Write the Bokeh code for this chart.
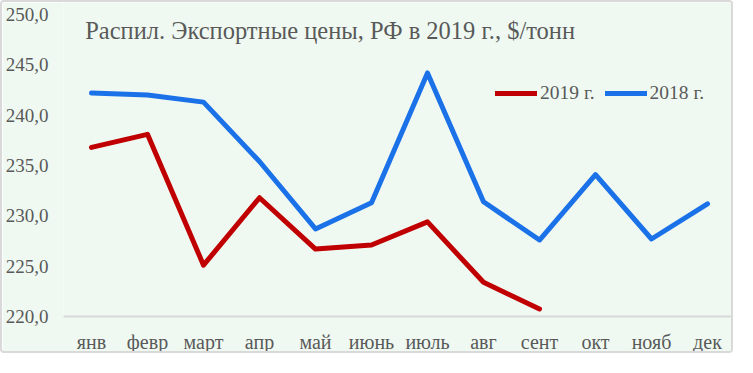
from bokeh.plotting import figure
from bokeh.models import FactorRange, Range1d, Legend, LegendItem, Label, CustomJSTickFormatter, FixedTicker
from bokeh.embed import file_html
from bokeh.resources import INLINE

months = ["янв", "февр", "март", "апр", "май", "июнь", "июль", "авг", "сент", "окт", "нояб", "дек"]
y2018 = [242.2, 242.0, 241.3, 235.4, 228.7, 231.3, 244.2, 231.4, 227.6, 234.1, 227.7, 231.2]
y2019 = [236.8, 238.1, 225.1, 231.8, 226.7, 227.1, 229.4, 223.4, 220.75]
yticks = [220, 225, 230, 235, 240, 245, 250]
title_text = "Распил. Экспортные цены, РФ в 2019 г., $/тонн"

BG = "#eff9f2"
TXT = "#595959"
FONT = "Liberation Serif"

p = figure(width=733, height=353, x_range=FactorRange(*months, range_padding=0),
           y_range=Range1d(220, 251.2), output_backend="svg", toolbar_location=None,
           min_border_left=60, min_border_right=0, min_border_top=0, min_border_bottom=35)
p.background_fill_color = BG
p.border_fill_color = BG
p.outline_line_color = None
p.xgrid.grid_line_color = None
p.ygrid.grid_line_color = None
p.styles = {"border": "2px solid #d9d9d9", "border-radius": "4px", "overflow": "hidden"}

r18 = p.line(months, y2018, line_color="#1b72e8", line_width=5, line_join="round", line_cap="round")
r19 = p.line(months[:len(y2019)], y2019, line_color="#c00000", line_width=5, line_join="round", line_cap="round")

p.yaxis.ticker = FixedTicker(ticks=yticks)
p.yaxis.formatter = CustomJSTickFormatter(code="return tick.toFixed(1).replace('.', ',');")
p.yaxis.axis_line_color = None
p.yaxis.major_tick_line_color = None
p.yaxis.minor_tick_line_color = None
p.yaxis.major_tick_out = 0
p.yaxis.major_label_standoff = 15
p.yaxis.major_label_text_font = FONT
p.yaxis.major_label_text_font_size = "19px"
p.yaxis.major_label_text_color = TXT

p.xaxis.axis_line_color = "#d9d9d9"
p.xaxis.axis_line_width = 2
p.xaxis.major_tick_line_color = None
p.xaxis.major_tick_out = 0
p.xaxis.major_label_standoff = 14
p.xaxis.major_label_text_font = FONT
p.xaxis.major_label_text_font_size = "20px"
p.xaxis.major_label_text_color = TXT

legend = Legend(items=[LegendItem(label="2019 г.", renderers=[r19]),
                       LegendItem(label="2018 г.", renderers=[r18])],
                orientation="horizontal", location=(432, 212),
                background_fill_alpha=0, border_line_color=None,
                glyph_width=42, glyph_height=20, label_standoff=3, spacing=10,
                padding=0, margin=0,
                label_text_font=FONT, label_text_font_size="19.5px", label_text_color=TXT)
p.add_layout(legend, "center")

p.add_layout(Label(x=0.387, y=248.45, text=title_text, text_font=FONT, text_font_size="24.5px",
                   text_color=TXT, text_baseline="middle"))

open("out.html", "w").write(file_html(p, INLINE))
